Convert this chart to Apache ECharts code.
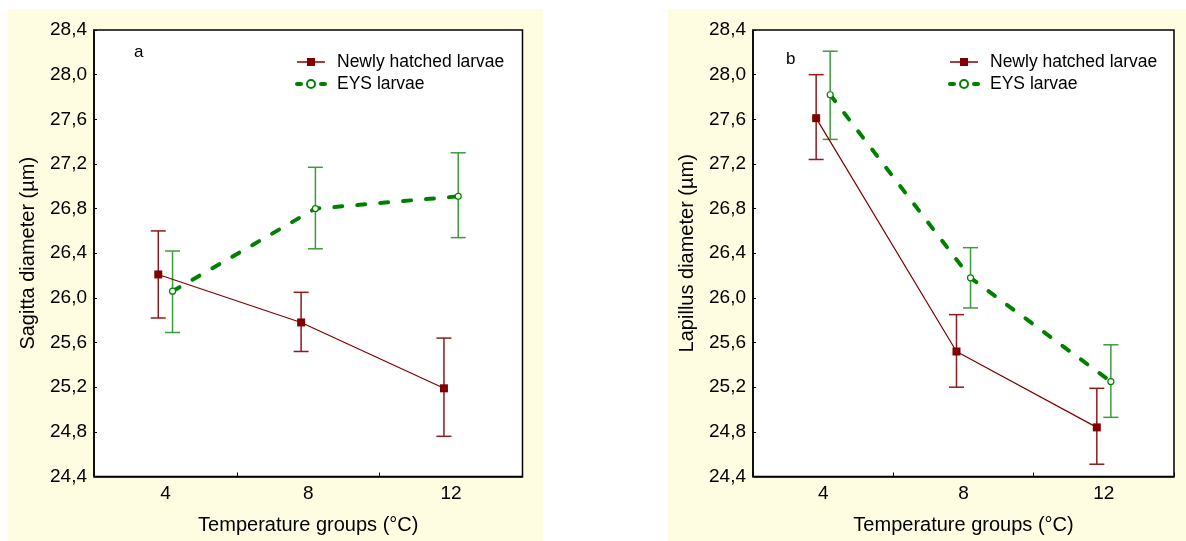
<!DOCTYPE html>
<html>
<head>
<meta charset="utf-8">
<script src="https://cdn.jsdelivr.net/npm/echarts@6/dist/echarts.min.js"></script>
<style>
html,body{margin:0;padding:0;background:#fff;}
#c{width:1186px;height:541px;}
</style>
</head>
<body>
<div id="c"></div>
<script>
// ---- data ----
const temps = [4, 8, 12];
const seriesNames = ['Newly hatched larvae', 'EYS larvae'];
const panelLabels = ['a', 'b'];
const yTitles = ['Sagitta diameter (µm)', 'Lapillus diameter (µm)'];
const xTitle = 'Temperature groups (°C)';

// Panel a: Sagitta
const sagNewMean = [26.21, 25.78, 25.19];
const sagNewLow  = [25.82, 25.52, 24.76];
const sagNewHigh = [26.60, 26.05, 25.64];
const sagEysMean = [26.06, 26.80, 26.91];
const sagEysLow  = [25.69, 26.44, 26.54];
const sagEysHigh = [26.42, 27.17, 27.30];

// Panel b: Lapillus
const lapNewMean = [27.61, 25.52, 24.84];
const lapNewLow  = [27.24, 25.20, 24.51];
const lapNewHigh = [28.00, 25.85, 25.19];
const lapEysMean = [27.82, 26.18, 25.25];
const lapEysLow  = [27.42, 25.91, 24.93];
const lapEysHigh = [28.21, 26.45, 25.58];

// ---- styling / layout ----
const FONT = '"Liberation Sans", Arial, sans-serif';
const RED = '#800000', RED_BAR = '#8e1a1a';
const GREEN = '#008000', GREEN_BAR = '#3c9c3c';
const OFFSET = 0.2; // horizontal dodge between groups
const YMIN = 24.4, YMAX = 28.4, YSTEP = 0.4;
const GREEN_DASH = {color: GREEN, width: 4, type: [8, 15], cap: 'round'};

const grids = [
  {left: 94, top: 30, width: 428.5, height: 446.5},
  {left: 753, top: 30, width: 421, height: 446.5}
];
const panels = [
  {newM: sagNewMean, newL: sagNewLow, newH: sagNewHigh, eysM: sagEysMean, eysL: sagEysLow, eysH: sagEysHigh},
  {newM: lapNewMean, newL: lapNewLow, newH: lapNewHigh, eysM: lapEysMean, eysL: lapEysLow, eysH: lapEysHigh}
];

const xAxes = [], yAxes = [], series = [], gridOpts = [];
panels.forEach((p, i) => {
  gridOpts.push(Object.assign({show: true, backgroundColor: '#fff', borderColor: '#000', borderWidth: 1.5, containLabel: false}, grids[i]));
  // visible category axis (labels + boundary ticks)
  xAxes.push({
    type: 'category', gridIndex: i, data: temps.map(String), boundaryGap: true,
    axisLine: {show: true, lineStyle: {color: '#000', width: 1.5}},
    axisTick: {show: true, inside: true, length: 4, lineStyle: {color: '#000'}},
    axisLabel: {color: '#000', fontSize: 19, fontFamily: FONT, margin: 8},
    name: xTitle, nameLocation: 'middle', nameGap: 39,
    nameTextStyle: {color: '#000', fontSize: 20, fontFamily: FONT},
    splitLine: {show: false}
  });
  // hidden value axis for placing dodged points
  xAxes.push({type: 'value', gridIndex: i, min: 2, max: 14, show: false, splitLine: {show: false}});
  yAxes.push({
    type: 'value', gridIndex: i, min: YMIN, max: YMAX, interval: YSTEP,
    axisLine: {show: true, lineStyle: {color: '#000', width: 1.5}},
    axisTick: {show: true, inside: true, length: 3, lineStyle: {color: '#000'}},
    axisLabel: {color: '#000', fontSize: 19, fontFamily: FONT, margin: 7,
      formatter: v => v.toFixed(1).replace('.', ',')},
    splitLine: {show: false},
    name: yTitles[i], nameLocation: 'middle', nameGap: 56, nameRotate: 90,
    nameTextStyle: {color: '#000', fontSize: 20, fontFamily: FONT}
  });
  const xi = i * 2 + 1;
  const errSeries = (lo, hi, off, color) => ({
    type: 'custom', xAxisIndex: xi, yAxisIndex: i, z: 2, silent: true,
    data: temps.map((t, k) => [t + off, lo[k], hi[k]]),
    encode: {x: 0, y: [1, 2]},
    renderItem: (params, api) => {
      const x = api.value(0);
      const a = api.coord([x, api.value(2)]);
      const b = api.coord([x, api.value(1)]);
      const w = 7.5;
      const st = {stroke: color, lineWidth: 1.5};
      return {type: 'group', children: [
        {type: 'line', shape: {x1: a[0], y1: a[1], x2: b[0], y2: b[1]}, style: st},
        {type: 'line', shape: {x1: a[0] - w, y1: a[1], x2: a[0] + w, y2: a[1]}, style: st},
        {type: 'line', shape: {x1: b[0] - w, y1: b[1], x2: b[0] + w, y2: b[1]}, style: st}
      ]};
    }
  });
  series.push(errSeries(p.newL, p.newH, -OFFSET, RED_BAR));
  series.push(errSeries(p.eysL, p.eysH, OFFSET, GREEN_BAR));
  series.push({
    name: seriesNames[0], type: 'line', xAxisIndex: xi, yAxisIndex: i, z: 3,
    data: temps.map((t, k) => [t - OFFSET, p.newM[k]]),
    symbol: 'rect', symbolSize: 8, showSymbol: true,
    lineStyle: {color: RED, width: 1.2},
    itemStyle: {color: RED}
  });
  series.push({
    name: seriesNames[1], type: 'line', xAxisIndex: xi, yAxisIndex: i, z: 4,
    data: temps.map((t, k) => [t + OFFSET, p.eysM[k]]),
    symbol: 'circle', symbolSize: 6, showSymbol: true,
    lineStyle: GREEN_DASH,
    itemStyle: {color: '#fff', borderColor: GREEN, borderWidth: 1.2}
  });
});

const legendData = [
  {name: seriesNames[0], lineStyle: {color: RED, width: 1.5}},
  {name: seriesNames[1], lineStyle: {color: GREEN, width: 4, type: [4, 20], cap: 'round'}}
];
const legendBase = {top: 53, padding: 0, orient: 'vertical', itemWidth: 28, itemHeight: 10, itemGap: 4,
  selectedMode: false, data: legendData,
  textStyle: {fontSize: 17.5, color: '#000', fontFamily: FONT, padding: [0, 0, 0, 7]}};

const chart = echarts.init(document.getElementById('c'), null, {renderer: 'canvas'});
chart.setOption({
  backgroundColor: '#fff',
  animation: false,
  graphic: [
    {type: 'rect', z: -10, shape: {x: 7.5, y: 9, width: 535.5, height: 532}, style: {fill: '#fffde1'}},
    {type: 'rect', z: -10, shape: {x: 667.5, y: 9, width: 518.5, height: 532}, style: {fill: '#fffde1'}}
  ],
  title: [
    {text: panelLabels[0], left: 134, top: 44, padding: 0, textStyle: {fontSize: 17, fontWeight: 'normal', color: '#000', fontFamily: FONT}},
    {text: panelLabels[1], left: 786, top: 51, padding: 0, textStyle: {fontSize: 17, fontWeight: 'normal', color: '#000', fontFamily: FONT}}
  ],
  legend: [
    Object.assign({left: 295}, legendBase),
    Object.assign({left: 948}, legendBase)
  ],
  grid: gridOpts,
  xAxis: xAxes,
  yAxis: yAxes,
  series: series
});
</script>
</body>
</html>
